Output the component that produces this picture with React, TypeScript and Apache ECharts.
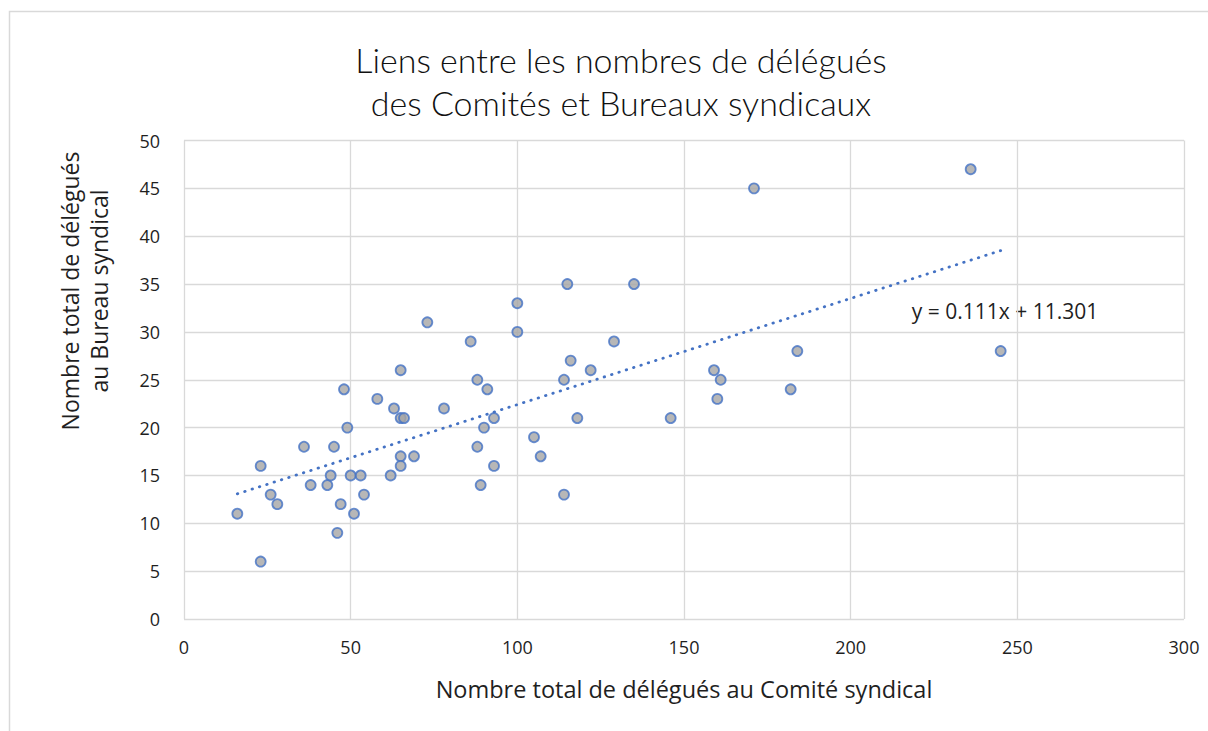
import React, { useEffect, useRef } from "react";
import * as echarts from "echarts";

// Nombre total de délégués au Comité syndical (x) / au Bureau syndical (y)
const comite: number[] = [
  16, 23, 23, 26, 28, 36, 38, 43, 44, 45, 46, 47, 48, 49, 50, 51, 53, 54, 58, 62,
  63, 65, 65, 66, 65, 65, 69, 73, 78, 86, 88, 88, 89, 90, 91, 93, 93, 100, 100, 105,
  107, 114, 114, 115, 116, 118, 122, 129, 135, 146, 159, 160, 161, 171, 182, 184, 236, 245,
];
const bureau: number[] = [
  11, 16, 6, 13, 12, 18, 14, 14, 15, 18, 9, 12, 24, 20, 15, 11, 15, 13, 23, 15,
  22, 26, 21, 21, 17, 16, 17, 31, 22, 29, 25, 18, 14, 20, 24, 21, 16, 33, 30, 19,
  17, 25, 13, 35, 27, 21, 26, 29, 35, 21, 26, 23, 25, 45, 24, 28, 47, 28,
];
const TREND_SLOPE = 0.111;
const TREND_INTERCEPT = 11.301;
const TITLE = "Liens entre les nombres de délégués\ndes Comités et Bureaux syndicaux";
const X_TITLE = "Nombre total de délégués au Comité syndical";
const Y_TITLE_1 = "Nombre total de délégués";
const Y_TITLE_2 = "au Bureau syndical";
const EQUATION = `y = ${TREND_SLOPE}x + ${TREND_INTERCEPT}`;

const TITLE_FONT = "Lato, 'Noto Sans', sans-serif";
const FONT = "'Open Sans', 'Noto Sans', sans-serif";
const TEXT = "#1f1f1f";

export default function App() {
  const ref = useRef<HTMLDivElement>(null);
  useEffect(() => {
    if (!ref.current) return;
    const chart = echarts.init(ref.current, undefined, { renderer: "svg" });
    const points = comite.map((x, i) => [x, bureau[i]]);
    const xMin = Math.min(...comite);
    const xMax = Math.max(...comite);
    const trend = [
      [xMin, TREND_SLOPE * xMin + TREND_INTERCEPT],
      [xMax, TREND_SLOPE * xMax + TREND_INTERCEPT],
    ];
    chart.setOption({
      animation: false,
      backgroundColor: "#ffffff",
      textStyle: { fontFamily: FONT },
      title: {
        text: TITLE,
        left: 616,
        top: 33,
        textAlign: "center",
        textStyle: {
          fontFamily: TITLE_FONT,
          fontSize: 34,
          fontWeight: 300,
          color: "#111111",
          lineHeight: 43,
        },
      },
      grid: { left: 184, right: 24, top: 140.5, bottom: 112, containLabel: false },
      xAxis: {
        type: "value",
        min: 0,
        max: 300,
        interval: 50,
        axisLine: { show: false },
        axisTick: { show: false },
        axisLabel: { margin: 19, fontSize: 18, color: TEXT, fontFamily: FONT },
        splitLine: { show: true, lineStyle: { color: "#d9d9d9", width: 1.3 } },
      },
      yAxis: {
        type: "value",
        min: 0,
        max: 50,
        interval: 5,
        axisLine: { show: false },
        axisTick: { show: false },
        axisLabel: { margin: 24, fontSize: 18, color: TEXT, fontFamily: FONT },
        splitLine: { show: true, lineStyle: { color: "#d9d9d9", width: 1.3 } },
      },
      graphic: [
        {
          type: "rect",
          silent: true,
          shape: { x: 9.5, y: 11.5, width: 1220, height: 740 },
          style: { fill: "none", stroke: "#d9d9d9", lineWidth: 1.5 },
        },
        {
          type: "text",
          x: 684,
          y: 689,
          style: { text: X_TITLE, fontFamily: FONT, fontSize: 23.5, fill: TEXT, align: "center", verticalAlign: "middle" },
        },
        {
          type: "text",
          x: 70,
          y: 291,
          rotation: Math.PI / 2,
          style: { text: Y_TITLE_1, fontFamily: FONT, fontSize: 23, fill: TEXT, align: "center", verticalAlign: "middle" },
        },
        {
          type: "text",
          x: 99,
          y: 291,
          rotation: Math.PI / 2,
          style: { text: Y_TITLE_2, fontFamily: FONT, fontSize: 23, fill: TEXT, align: "center", verticalAlign: "middle" },
        },
        {
          type: "text",
          x: 1005,
          y: 311,
          style: { text: EQUATION, fontFamily: FONT, fontSize: 21, fill: TEXT, align: "center", verticalAlign: "middle" },
        },
      ],
      series: [
        {
          type: "line",
          data: trend,
          symbol: "none",
          silent: true,
          lineStyle: { color: "#4472c4", width: 2.8, type: [0.5, 7.2], cap: "round" },
          z: 1,
        },
        {
          type: "scatter",
          data: points,
          symbol: "circle",
          symbolSize: 10,
          itemStyle: { color: "#a5a5a5", borderColor: "#4472c4", borderWidth: 1.8 },
          z: 2,
        },
      ],
    });
    return () => chart.dispose();
  }, []);
  return (
    <div
      ref={ref}
      style={{ position: "fixed", left: 0, top: 0, width: 1208, height: 731 }}
    />
  );
}
